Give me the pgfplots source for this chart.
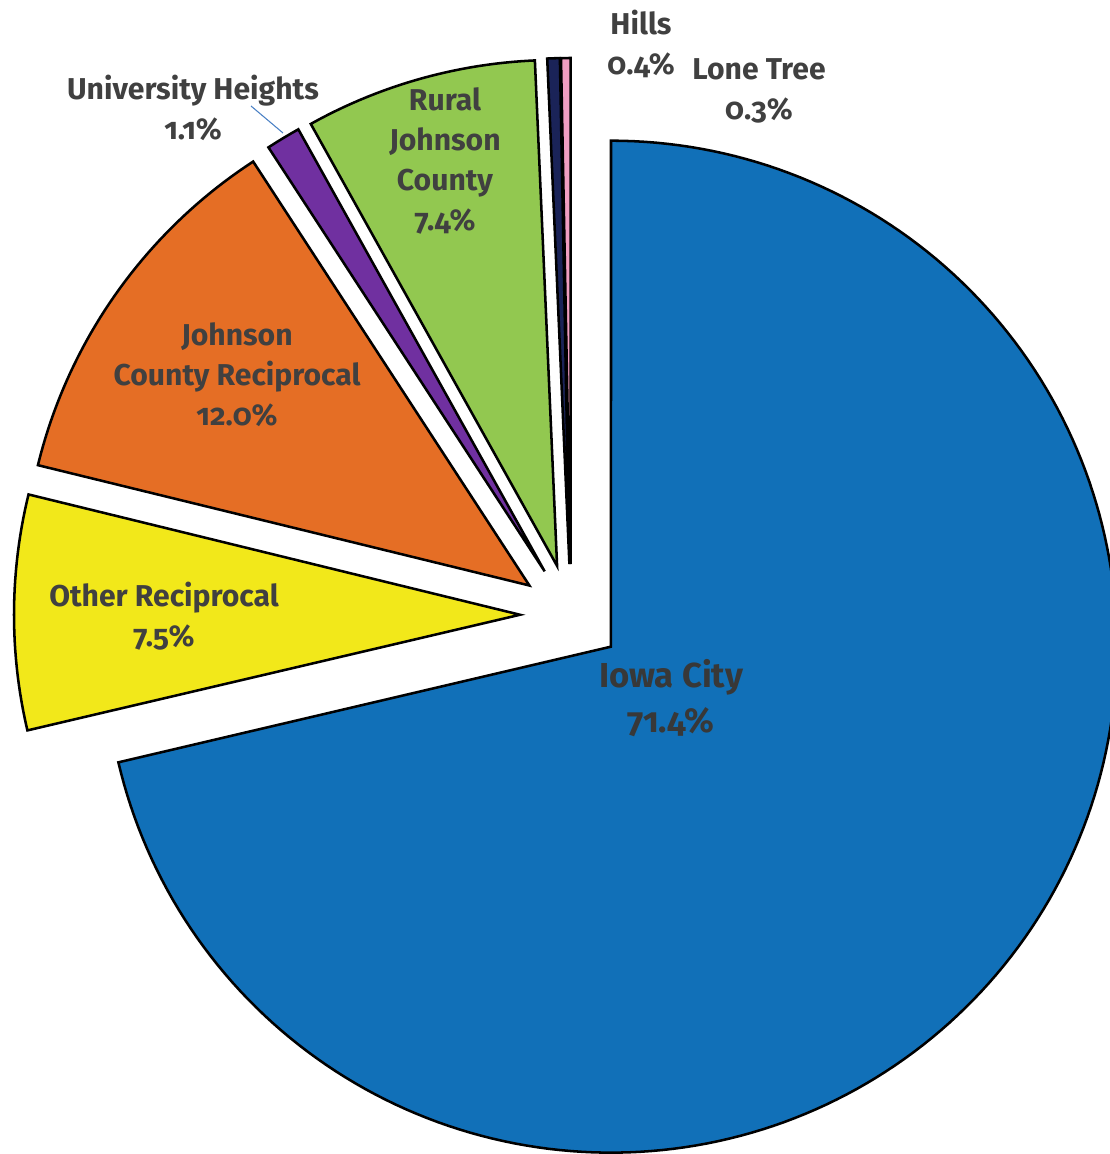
\documentclass[border=0pt]{standalone}
\usepackage{pgfplots}
\pgfplotsset{compat=1.18}
\usepackage{fontspec}
\setmainfont{Fira Sans}[Numbers=OldStyle]

\definecolor{iowa}{HTML}{1170B8}
\definecolor{other}{HTML}{F2E81A}
\definecolor{jcrecip}{HTML}{E56E25}
\definecolor{uheights}{HTML}{7030A0}
\definecolor{rural}{HTML}{92C850}
\definecolor{hills}{HTML}{1A2358}
\definecolor{lonetree}{HTML}{F19EC2}
\definecolor{labelgray}{HTML}{404040}
\definecolor{leader}{HTML}{4A80C4}

\tikzset{lbl/.style={text=labelgray, align=center, inner sep=0pt,
  font=\bfseries\fontsize{22.6}{30}\selectfont}}

% pie geometry, in picture pixels
\def\pcx{571}\def\pcy{-615}\def\prad{506}\def\pexp{51}
\def\total{100.1}
\def\cum{0}
% slice: value in percent, colour
\newcommand\pieslice[2]{%
  \pgfmathsetmacro\sa{90-(360/\total)*\cum}%
  \pgfmathsetmacro\newcum{\cum+#1}%
  \pgfmathsetmacro\ea{90-(360/\total)*\newcum}%
  \pgfmathsetmacro\ma{(\sa+\ea)/2}%
  \pgfmathsetmacro\cx{\pcx+\pexp*cos(\ma)}%
  \pgfmathsetmacro\cy{\pcy+\pexp*sin(\ma)}%
  \edef\doslice{\noexpand\addplot[draw=black, line width=1.9pt, fill=#2,
    domain=\ea:\sa, samples=200]
    ({\cx+\prad*cos(x)},{\cy+\prad*sin(x)}) -- (axis cs:\cx,\cy) -- cycle;}%
  \doslice
  \global\let\cum\newcum
}

\begin{document}
\begin{tikzpicture}
\begin{axis}[
  width=832.5pt, height=865.5pt, scale only axis,
  xmin=0, xmax=1110, ymin=-1154, ymax=0,
  axis lines=none, clip=true,
]
  \pieslice{71.4}{iowa}
  \pieslice{7.5}{other}
  \pieslice{12.0}{jcrecip}
  \pieslice{1.1}{uheights}
  \pieslice{7.4}{rural}
  \pieslice{0.4}{hills}
  \pieslice{0.3}{lonetree}

  \draw[leader, line width=0.8pt] (axis cs:251,-106) -- (axis cs:283,-133);

  \node[lbl, font=\bfseries\fontsize{26}{34}\selectfont, text=black!78]
    at (axis cs:671,-698) {Iowa City\\71.4\%};
  \node[lbl] at (axis cs:164,-616) {Other Reciprocal\\7.5\%};
  \node[lbl] at (axis cs:237,-375) {Johnson\\County Reciprocal\\12.0\%};
  \node[lbl] at (axis cs:193,-108) {University Heights\\1.1\%};
  \node[lbl] at (axis cs:445,-161) {Rural\\Johnson\\County\\7.4\%};
  \node[lbl] at (axis cs:641,-44) {Hills\\0.4\%};
  \node[lbl] at (axis cs:759,-91) {Lone Tree\\0.3\%};
\end{axis}
\pgfresetboundingbox
\useasboundingbox (current axis.south west) rectangle (current axis.north east);
\end{tikzpicture}
\end{document}
